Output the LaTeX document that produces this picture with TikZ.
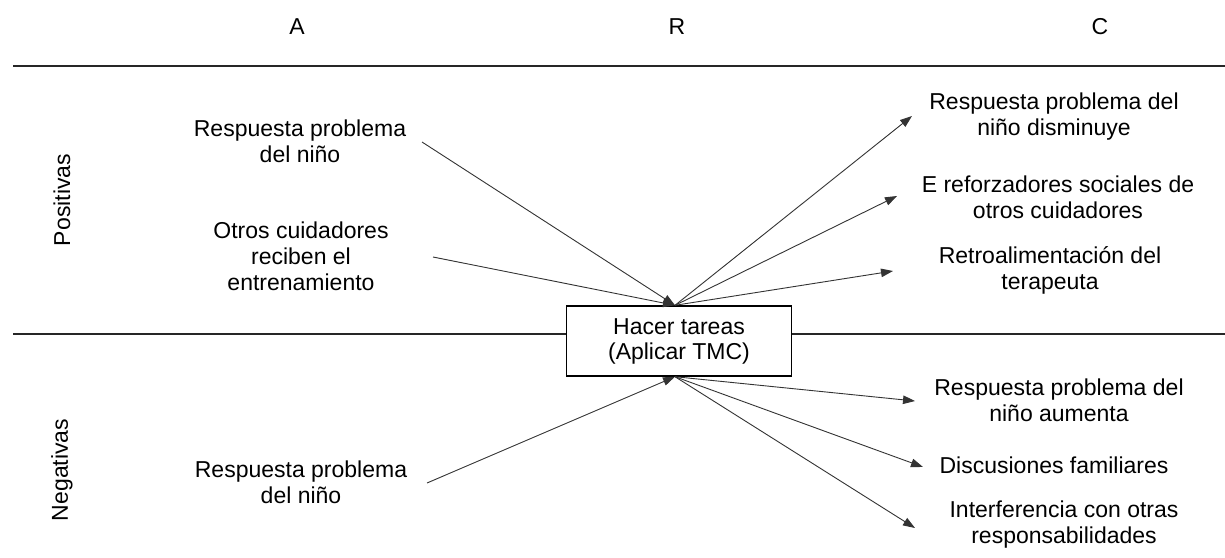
\documentclass[tikz,border=0pt]{standalone}
\usepackage{fontspec}
\setmainfont{Liberation Sans}
\usetikzlibrary{arrows.meta}
\begin{document}
\begin{tikzpicture}[x=1pt,y=-1pt,
  every node/.style={font=\fontsize{23}{26}\selectfont},
  lbl/.style={align=center,inner sep=0pt},
  rule/.style={line width=1.4pt,draw=black!85},
  conn/.style={line width=0.9pt,draw=black!80,-{Triangle[length=12pt,width=8.5pt]}},
  taskbox/.style={draw=black,line width=1.4pt,fill=white,minimum width=225pt,minimum height=70pt,align=center,inner sep=2pt}]
\useasboundingbox (0,0) rectangle (1225,557);

% column headers
\node (hA) at (297,27) {A};
\node (hR) at (677,27) {R};
\node (hC) at (1100,27) {C};

% separating rules
\draw[rule] (13,66) -- (1225,66);
\draw[rule] (13,334) -- (1225,334);

% row labels
\node[rotate=90] (pos) at (62,200) {Positivas};
\node[rotate=90] (neg) at (62,470) {Negativas};

% central response
\node[taskbox] (task) at (679,341) {Hacer tareas\\[-1pt](Aplicar TMC)};
\coordinate (tin) at ([xshift=-4pt]task.north);
\coordinate (tout) at ([xshift=-4pt]task.south);

% antecedents
\node[lbl] (a1) at (300,141) {Respuesta problema\\del niño};
\node[lbl] (a2) at (301,256) {Otros cuidadores\\reciben el\\entrenamiento};
\node[lbl] (a3) at (301,482) {Respuesta problema\\del niño};
\coordinate (a1o) at (422,142);
\coordinate (a2o) at (433,257);
\coordinate (a3o) at (427,483);

% consequences
\node[lbl] (c1) at (1054,117) {Respuesta problema del\\niño disminuye};
\node[lbl] (c2) at (1058,197) {E reforzadores sociales de\\otros cuidadores};
\node[lbl] (c3) at (1050,270) {Retroalimentación del\\terapeuta};
\node[lbl] (c4) at (1059,400) {Respuesta problema del\\niño aumenta};
\node[lbl] (c5) at (1054,465) {Discusiones familiares};
\node[lbl] (c6) at (1064,525) {Interferencia con otras\\responsabilidades};
\coordinate (c1i) at (912,116);
\coordinate (c2i) at (897,196);
\coordinate (c3i) at (893,271);
\coordinate (c4i) at (915,401);
\coordinate (c5i) at (923,467);
\coordinate (c6i) at (915,528);

% connectors
\draw[conn] (a1o) -- (tin);
\draw[conn] (a2o) -- (tin);
\draw[conn] (a3o) -- (tout);
\draw[conn] (tin) -- (c1i);
\draw[conn] (tin) -- (c2i);
\draw[conn] (tin) -- (c3i);
\draw[conn] (tout) -- (c4i);
\draw[conn] (tout) -- (c5i);
\draw[conn] (tout) -- (c6i);
\end{tikzpicture}
\end{document}
